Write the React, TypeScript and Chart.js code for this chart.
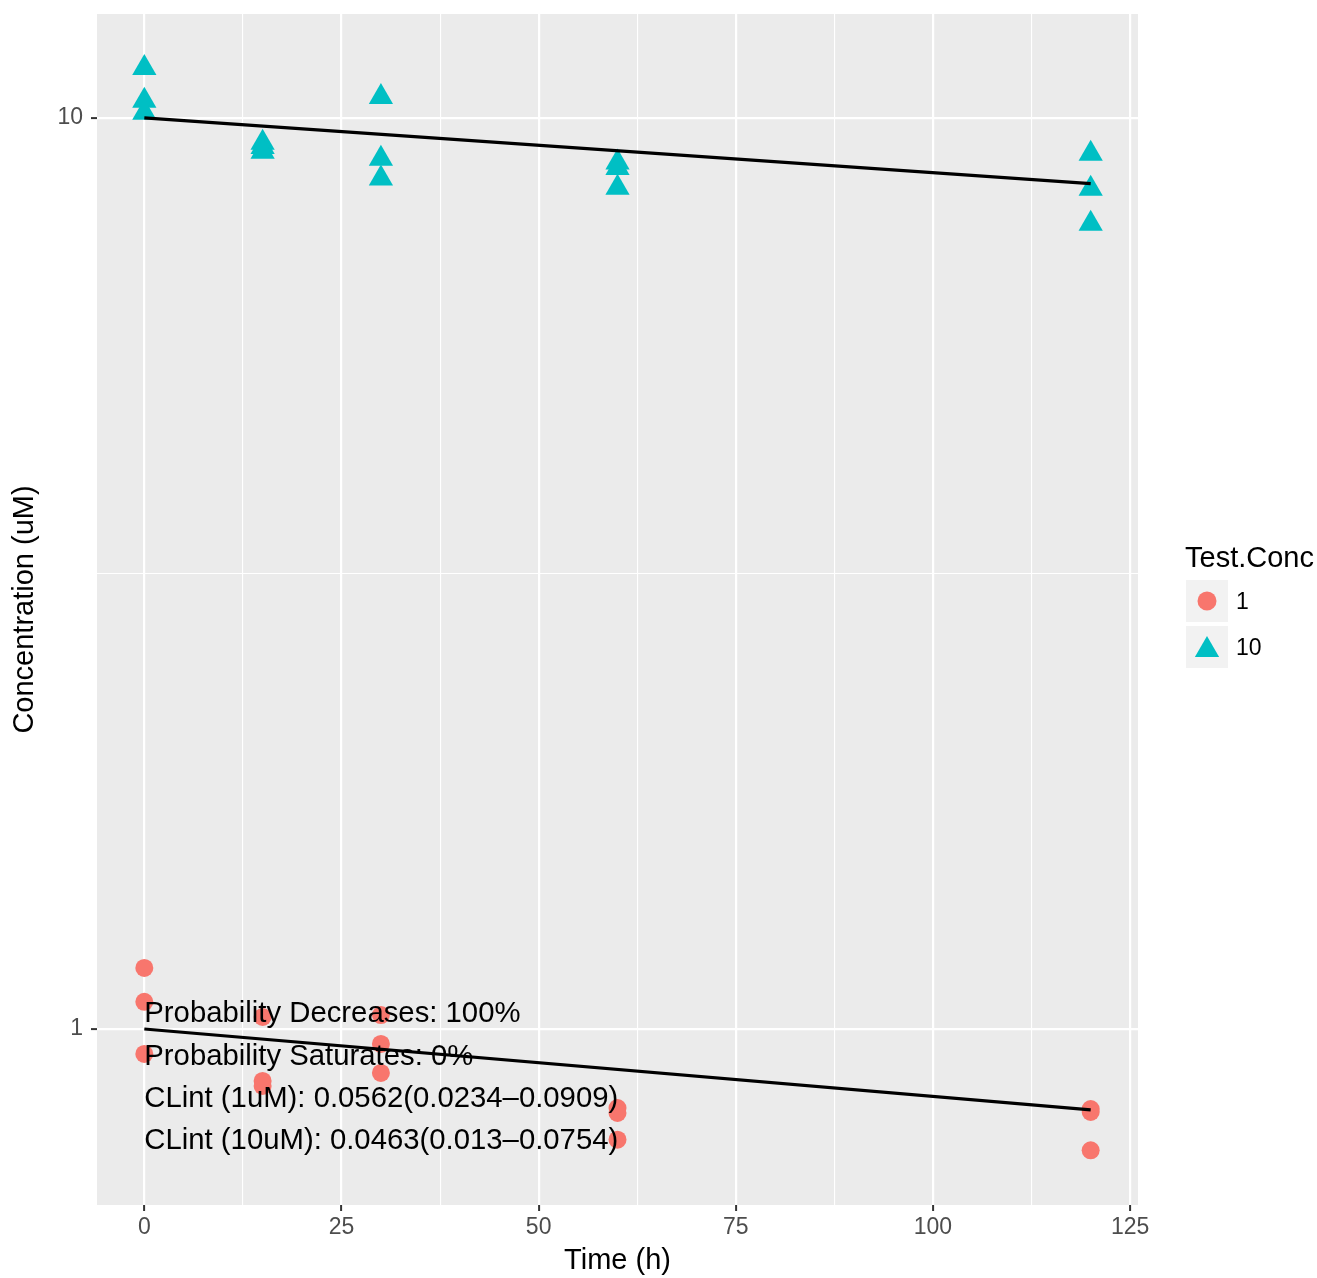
import React, { useEffect, useRef } from 'react';
import { Chart, registerables } from 'chart.js';

Chart.register(...registerables);

const FONT = '"Liberation Sans", Arial, Helvetica, sans-serif';

// ---- data ----
const times1 = [0, 0, 0, 15, 15, 15, 30, 30, 30, 60, 60, 60, 120, 120, 120];
const conc1 = [1.167, 1.071, 0.939, 1.031, 0.877, 0.866, 1.036, 0.963, 0.895, 0.819, 0.809, 0.756, 0.817, 0.811, 0.736];

const times10 = [0, 0, 0, 15, 15, 15, 30, 30, 30, 60, 60, 60, 120, 120, 120];
const conc10 = [11.34, 10.44, 10.13, 9.39, 9.29, 9.18, 10.54, 9.02, 8.58, 8.93, 8.81, 8.38, 9.13, 8.36, 7.65];

const fitTimes = [0, 120];
const fit1 = [1, 0.815];
const fit10 = [10, 8.47];

const xMajor = [0, 25, 50, 75, 100, 125];
const xMinor = [12.5, 37.5, 62.5, 87.5, 112.5];
const yMajor = [1, 10];
const yMinor = [3.1623];

const seriesLabels = ['1', '10'];
const legendTitle = 'Test.Conc';

const annotationLines = [
  'Probability Decreases: 100%',
  'Probability Saturates: 0%',
  'CLint (1uM): 0.0562(0.0234\u20130.0909)',
  'CLint (10uM): 0.0463(0.013\u20130.0754)',
];
const annotationX = 0;
const annotationY = [1.018, 0.913, 0.821, 0.739];

const RED = '#F8766D';
const TEAL = '#00BFC4';

const isIn = (arr: number[], v: number) => arr.some((a) => Math.abs(a - v) < 1e-6);

const bgPlugin = {
  id: 'panelBg',
  beforeDraw(chart: any) {
    const { ctx, chartArea } = chart;
    ctx.save();
    ctx.fillStyle = '#EBEBEB';
    ctx.fillRect(chartArea.left, chartArea.top, chartArea.right - chartArea.left, chartArea.bottom - chartArea.top);
    ctx.restore();
  },
};

const annotationPlugin = {
  id: 'annot',
  afterDraw(chart: any) {
    const { ctx, scales } = chart;
    ctx.save();
    ctx.font = `29.3px ${FONT}`;
    ctx.fillStyle = '#000';
    ctx.textAlign = 'left';
    ctx.textBaseline = 'alphabetic';
    const x = scales.x.getPixelForValue(annotationX);
    annotationLines.forEach((t, i) => {
      ctx.fillText(t, x, scales.y.getPixelForValue(annotationY[i]));
    });
    ctx.restore();
  },
};

const legendPlugin = {
  id: 'ggLegend',
  afterDraw(chart: any) {
    const { ctx } = chart;
    const ds = chart.data.datasets;
    ctx.save();
    ctx.fillStyle = '#000';
    ctx.font = `29px ${FONT}`;
    ctx.textAlign = 'left';
    ctx.textBaseline = 'alphabetic';
    ctx.fillText(legendTitle, 1185, 567);
    const keyX = 1186;
    const keyTops = [580, 626];
    const keySize = 42;
    seriesLabels.forEach((lab, i) => {
      const top = keyTops[i];
      ctx.fillStyle = '#F2F2F2';
      ctx.fillRect(keyX, top, keySize, keySize);
      const cx = keyX + keySize / 2;
      const cy = top + keySize / 2;
      ctx.fillStyle = ds[i].backgroundColor;
      ctx.beginPath();
      if (ds[i].pointStyle === 'triangle') {
        const r = ds[i].pointRadius;
        const c = cy + 3;
        ctx.moveTo(cx, c - r);
        ctx.lineTo(cx + (r * Math.sqrt(3)) / 2, c + r / 2);
        ctx.lineTo(cx - (r * Math.sqrt(3)) / 2, c + r / 2);
        ctx.closePath();
      } else {
        ctx.arc(cx, cy, ds[i].pointRadius + 0.5, 0, Math.PI * 2);
      }
      ctx.fill();
      ctx.fillStyle = '#000';
      ctx.font = `23px ${FONT}`;
      ctx.fillText(lab, 1236, top + 29);
    });
    ctx.restore();
  },
};

export default function App() {
  const ref = useRef<HTMLCanvasElement | null>(null);

  useEffect(() => {
    const canvas = ref.current;
    if (!canvas) return;
    const chart = new Chart(canvas, {
      type: 'scatter',
      data: {
        datasets: [
          {
            label: seriesLabels[0],
            data: times1.map((t, i) => ({ x: t, y: conc1[i] })),
            pointStyle: 'circle',
            pointRadius: 9,
            backgroundColor: RED,
            borderColor: RED,
            borderWidth: 0,
            order: 2,
          },
          {
            label: seriesLabels[1],
            data: times10.map((t, i) => ({ x: t, y: conc10[i] })),
            pointStyle: 'triangle',
            pointRadius: 14,
            backgroundColor: TEAL,
            borderColor: TEAL,
            borderWidth: 0,
            order: 2,
          },
          {
            type: 'line',
            label: 'fit1',
            data: fitTimes.map((t, i) => ({ x: t, y: fit1[i] })),
            borderColor: '#000',
            borderWidth: 3.2,
            pointRadius: 0,
            fill: false,
            order: 1,
          },
          {
            type: 'line',
            label: 'fit10',
            data: fitTimes.map((t, i) => ({ x: t, y: fit10[i] })),
            borderColor: '#000',
            borderWidth: 3.2,
            pointRadius: 0,
            fill: false,
            order: 1,
          },
        ] as any,
      },
      options: {
        responsive: false,
        animation: false,
        devicePixelRatio: 1,
        layout: { padding: { top: 12, right: 179, left: 0, bottom: 0 } },
        plugins: { legend: { display: false }, tooltip: { enabled: false } },
        scales: {
          x: {
            type: 'linear',
            bounds: 'data',
            min: -6,
            max: 126,
            afterBuildTicks: (s: any) => {
              s.ticks = [...xMajor, ...xMinor].sort((a, b) => a - b).map((v) => ({ value: v }));
            },
            afterFit: (s: any) => {
              s.height = 73;
              s.paddingLeft = 0;
              s.paddingRight = 0;
            },
            ticks: {
              autoSkip: false,
              maxRotation: 0,
              padding: 3,
              color: '#4D4D4D',
              font: { family: FONT, size: 23 },
              callback: (v: any) => (isIn(xMajor, Number(v)) ? String(v) : ''),
            },
            grid: {
              color: '#FFFFFF',
              lineWidth: (c: any) => (c.tick && isIn(xMajor, c.tick.value) ? 2.2 : 1.1),
              tickColor: (c: any) => (c.tick && isIn(xMajor, c.tick.value) ? '#333333' : 'rgba(0,0,0,0)'),
              tickWidth: 2,
              tickLength: 6,
              drawTicks: true,
            },
            border: { display: false },
            title: {
              display: true,
              text: 'Time (h)',
              color: '#000',
              font: { family: FONT, size: 29 },
              padding: { top: 0, bottom: 0 },
            },
          },
          y: {
            type: 'logarithmic',
            bounds: 'data',
            min: 0.641,
            max: 13.0,
            afterBuildTicks: (s: any) => {
              s.ticks = [...yMajor, ...yMinor].sort((a, b) => a - b).map((v) => ({ value: v }));
            },
            afterFit: (s: any) => {
              s.width = 97;
              s.paddingTop = 0;
              s.paddingBottom = 0;
            },
            ticks: {
              autoSkip: false,
              padding: 8,
              color: '#4D4D4D',
              font: { family: FONT, size: 23 },
              callback: (v: any) => (isIn(yMajor, Number(v)) ? String(v) : ''),
            },
            grid: {
              color: '#FFFFFF',
              lineWidth: (c: any) => (c.tick && isIn(yMajor, c.tick.value) ? 2.2 : 1.1),
              tickColor: (c: any) => (c.tick && isIn(yMajor, c.tick.value) ? '#333333' : 'rgba(0,0,0,0)'),
              tickWidth: 2,
              tickLength: 6,
              drawTicks: true,
            },
            border: { display: false },
            title: {
              display: true,
              text: 'Concentration (uM)',
              color: '#000',
              font: { family: FONT, size: 29 },
              padding: { top: 8, bottom: 0 },
            },
          },
        },
      } as any,
      plugins: [bgPlugin, annotationPlugin, legendPlugin],
    });
    return () => chart.destroy();
  }, []);

  return (
    <div style={{ position: 'absolute', left: 0, top: 0, width: 1317, height: 1278, background: '#fff' }}>
      <canvas ref={ref} width={1317} height={1278} style={{ display: 'block' }} />
    </div>
  );
}
